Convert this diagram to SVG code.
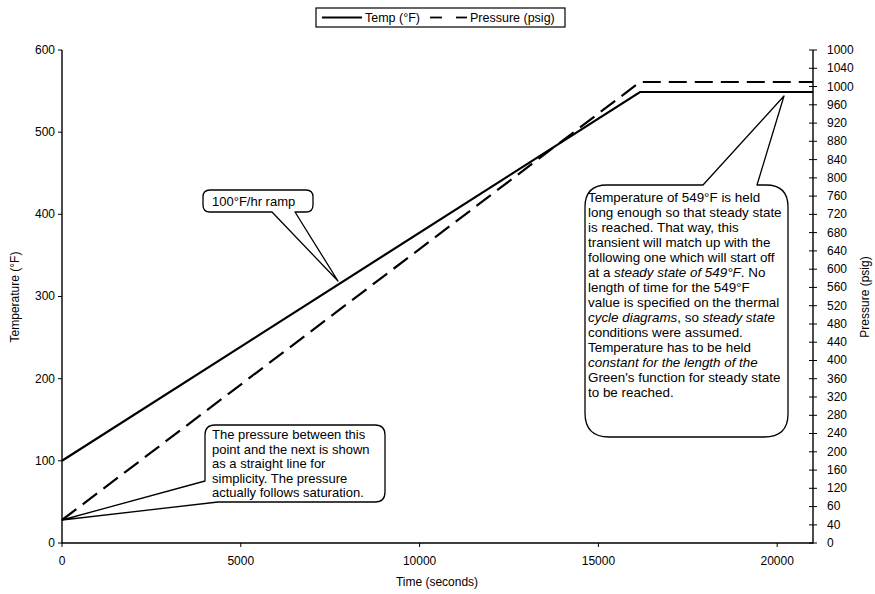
<svg xmlns="http://www.w3.org/2000/svg" width="875" height="594" viewBox="0 0 875 594">
<style>
text{font-family:"Liberation Sans",Arial,sans-serif;fill:#000}
.ax{font-size:12px}
.lt{font-size:12px;text-anchor:end}
.rt{font-size:12px}
.xt{font-size:12px;text-anchor:middle}
.co{font-size:13px}
.co2{font-size:13.4px}
.axis{stroke:#000;stroke-width:1.4;fill:none}
.tick{stroke:#000;stroke-width:1}
.callout{fill:#fff;stroke:#000;stroke-width:1.3;stroke-linejoin:round}
.temp{fill:none;stroke:#000;stroke-width:2.2}
.pres{fill:none;stroke:#000;stroke-width:2.2;stroke-dasharray:18 8}
</style>
<rect width="875" height="594" fill="#fff"/>
<g id="legend">
<rect x="316" y="8" width="249" height="19" fill="#fff" stroke="#000" stroke-width="1.2"/>
<line x1="322" y1="17.5" x2="362" y2="17.5" stroke="#000" stroke-width="1.8"/>
<text x="365" y="22" style="font-size:12.5px">Temp (°F)</text>
<line x1="430" y1="17.5" x2="442" y2="17.5" stroke="#000" stroke-width="1.8"/>
<line x1="456" y1="17.5" x2="467" y2="17.5" stroke="#000" stroke-width="1.8"/>
<text x="470" y="22" style="font-size:12.5px">Pressure (psig)</text>
</g>
<g id="axes">
<path class="axis" d="M62,50 V543 H813 V50"/>
<g class="tick">
<path d="M58,50H62M58,132.2H62M58,214.3H62M58,296.5H62M58,378.7H62M58,460.8H62M58,543H62"/>
<path d="M62,543V547M240.8,543V547M419.6,543V547M598.4,543V547M777.2,543V547"/>
<path d="M809,50H817M809,68.3H817M809,86.5H817M809,104.8H817M809,123.1H817M809,141.3H817M809,159.6H817M809,177.9H817M809,196.1H817M809,214.4H817M809,232.6H817M809,250.9H817M809,269.2H817M809,287.4H817M809,305.7H817M809,324H817M809,342.2H817M809,360.5H817M809,378.7H817M809,397H817M809,415.3H817M809,433.5H817M809,451.8H817M809,470.1H817M809,488.3H817M809,506.6H817M809,524.9H817M809,543H817"/>
</g>
<g class="ax">
<text class="lt" x="55" y="54">600</text>
<text class="lt" x="55" y="136">500</text>
<text class="lt" x="55" y="218">400</text>
<text class="lt" x="55" y="300">300</text>
<text class="lt" x="55" y="383">200</text>
<text class="lt" x="55" y="465">100</text>
<text class="lt" x="55" y="547">0</text>
</g>
<g class="ax">
<text class="rt" x="827" y="54">1000</text>
<text class="rt" x="827" y="72">1040</text>
<text class="rt" x="827" y="91">1000</text>
<text class="rt" x="827" y="109">960</text>
<text class="rt" x="827" y="127">920</text>
<text class="rt" x="827" y="145">880</text>
<text class="rt" x="827" y="164">840</text>
<text class="rt" x="827" y="182">800</text>
<text class="rt" x="827" y="200">760</text>
<text class="rt" x="827" y="218">720</text>
<text class="rt" x="827" y="237">680</text>
<text class="rt" x="827" y="255">640</text>
<text class="rt" x="827" y="273">600</text>
<text class="rt" x="827" y="291">560</text>
<text class="rt" x="827" y="310">520</text>
<text class="rt" x="827" y="328">480</text>
<text class="rt" x="827" y="346">440</text>
<text class="rt" x="827" y="364">400</text>
<text class="rt" x="827" y="383">360</text>
<text class="rt" x="827" y="401">320</text>
<text class="rt" x="827" y="419">280</text>
<text class="rt" x="827" y="437">240</text>
<text class="rt" x="827" y="456">200</text>
<text class="rt" x="827" y="474">160</text>
<text class="rt" x="827" y="492">120</text>
<text class="rt" x="827" y="510">60</text>
<text class="rt" x="827" y="529">40</text>
<text class="rt" x="827" y="547">0</text>
</g>
<g class="ax">
<text class="xt" x="62" y="565">0</text>
<text class="xt" x="240.8" y="565">5000</text>
<text class="xt" x="419.6" y="565">10000</text>
<text class="xt" x="598.4" y="565">15000</text>
<text class="xt" x="777.2" y="565">20000</text>
<text class="xt" x="437" y="586">Time (seconds)</text>
<text class="ax" text-anchor="middle" transform="translate(19,297) rotate(-90)">Temperature (°F)</text>
<text class="ax" text-anchor="middle" transform="translate(869,297) rotate(-90)">Pressure (psig)</text>
</g>
</g>
<g id="connectors">
<polyline class="temp" points="62,460.8 640,92 813,92"/>
<polyline class="pres" points="62,520 640,82 813,82"/>
</g>
<g id="callout-ramp">
<path class="callout" d="M210,190 H306 Q313,190 313,197 V205 Q313,212 306,212 H295 L338,281 L272,212 H210 Q203,212 203,205 V197 Q203,190 210,190 Z"/>
<text class="co" x="212" y="206">100°F/hr ramp</text>
</g>
<g id="callout-pressure">
<path class="callout" d="M215,425 H375 Q385,425 385,435 V492 Q385,502 375,502 H218 L62,520 L205,481 V435 Q205,425 215,425 Z"/>
<text class="co" x="212" y="439">The pressure between this</text>
<text class="co" x="212" y="453.5">point and the next is shown</text>
<text class="co" x="212" y="468">as a straight line for</text>
<text class="co" x="212" y="482.5">simplicity.  The pressure</text>
<text class="co" x="212" y="497">actually follows saturation.</text>
</g>
<g id="callout-steady">
<path class="callout" d="M607,185 H703 L784,96 L757,185 H766 Q788,185 788,207 V414 Q788,437 764,437 H609 Q585,437 585,413 V207 Q585,185 607,185 Z"/>
<text class="co2" x="588" y="202">Temperature of 549°F is held</text>
<text class="co2" x="588" y="217">long enough so that steady state</text>
<text class="co2" x="588" y="232">is reached.  That way, this</text>
<text class="co2" x="588" y="247">transient will match up with the</text>
<text class="co2" x="588" y="262">following one which will start off</text>
<text class="co2" x="588" y="277">at a <tspan font-style="italic">steady state of 549°F</tspan>.  No</text>
<text class="co2" x="588" y="292">length of time for the 549°F</text>
<text class="co2" x="588" y="307">value is specified on the thermal</text>
<text class="co2" x="588" y="322"><tspan font-style="italic">cycle diagrams</tspan>, so <tspan font-style="italic">steady state</tspan></text>
<text class="co2" x="588" y="337">conditions were assumed.</text>
<text class="co2" x="588" y="352">Temperature has to be held</text>
<text class="co2" x="588" y="367" font-style="italic">constant for the length of the</text>
<text class="co2" x="588" y="382">Green's function for steady state</text>
<text class="co2" x="588" y="397">to be reached.</text>
</g>
</svg>
